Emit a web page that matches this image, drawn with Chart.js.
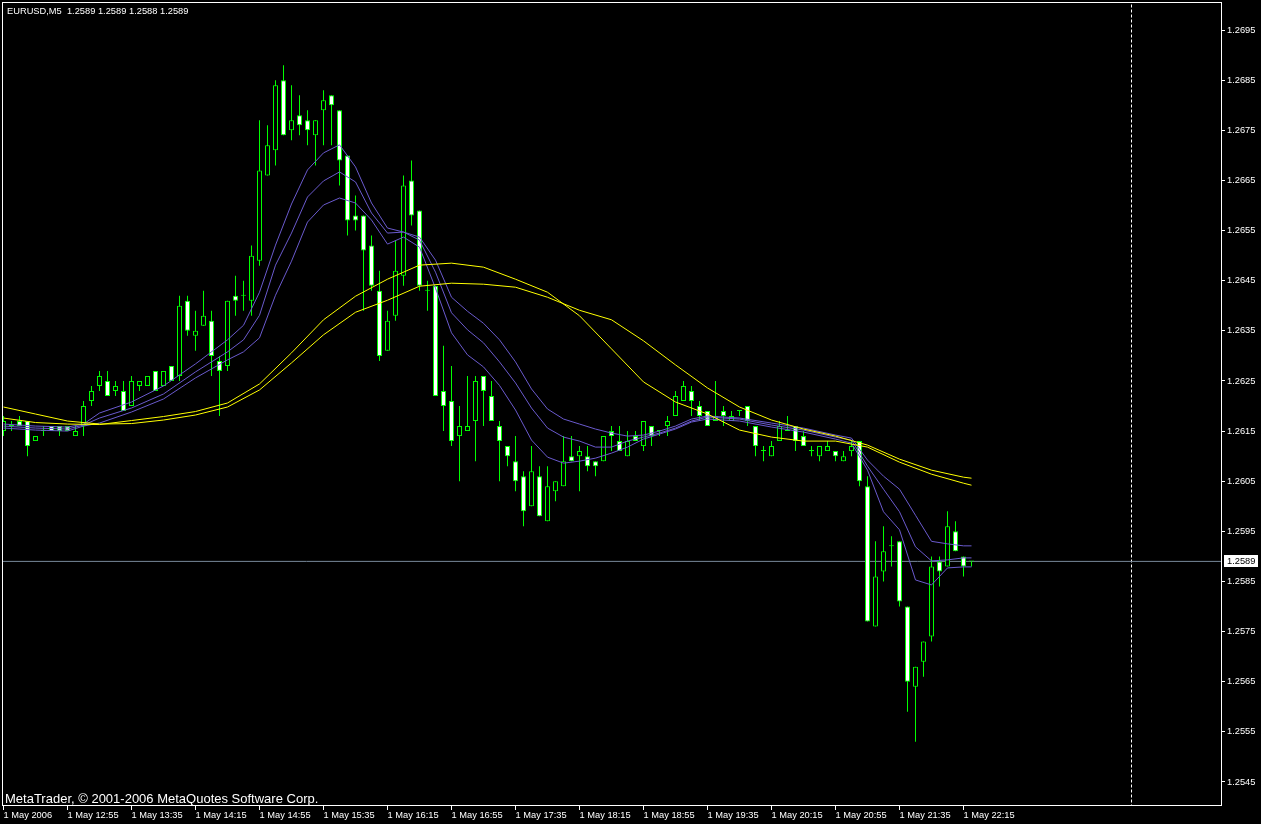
<!DOCTYPE html>
<html>
<head>
<meta charset="utf-8">
<script src="https://cdn.jsdelivr.net/npm/chart.js@4.4.0/dist/chart.umd.min.js"></script>
<style>
    html, body { margin: 0; padding: 0; background: #000; }
    #chart { display: block; }
</style>
</head>
<body>
<canvas id="chart" width="1261" height="824"></canvas>
<script>
// EURUSD M5, 1 May 2006 12:15 .. 22:20, one bar every 5 minutes
const symbolName = 'EURUSD,M5';
const lastQuote = [1.2589, 1.2589, 1.2588, 1.2589];
const bidPrice = 1.2589;
const separatorBar = 141; // 2 May 00:00
const copyright = 'MetaTrader, \u00a9 2001-2006 MetaQuotes Software Corp.';

const xTickBars = [0, 8, 16, 24, 32, 40, 48, 56, 64, 72, 80, 88, 96, 104, 112, 120];
const xTickLabels = ['1 May 2006', '1 May 12:55', '1 May 13:35', '1 May 14:15', '1 May 14:55', '1 May 15:35',
    '1 May 16:15', '1 May 16:55', '1 May 17:35', '1 May 18:15', '1 May 18:55', '1 May 19:35',
    '1 May 20:15', '1 May 20:55', '1 May 21:35', '1 May 22:15'];
const yTickValues = [1.2545, 1.2555, 1.2565, 1.2575, 1.2585, 1.2595, 1.2605, 1.2615,
    1.2625, 1.2635, 1.2645, 1.2655, 1.2665, 1.2675, 1.2685, 1.2695];

const openPrices = [
    1.2615, 1.2616, 1.2617, 1.2617, 1.2613, 1.2615, 1.2616, 1.2616, 1.2616, 1.2614,
    1.2616, 1.2621, 1.2624, 1.2625, 1.2623, 1.2623, 1.2620, 1.2624, 1.2624, 1.2627,
    1.2624, 1.2628, 1.2626, 1.2641, 1.2634, 1.2636, 1.2637, 1.2629, 1.2628, 1.2642,
    1.2642, 1.2641, 1.2649, 1.2666, 1.2671, 1.2685, 1.2675, 1.2678, 1.2677, 1.2674,
    1.2679, 1.2682, 1.2679, 1.2670, 1.2658, 1.2658, 1.2652, 1.2643, 1.2631, 1.2638,
    1.2646, 1.2665, 1.2659, 1.2643, 1.2644, 1.2623, 1.2621, 1.2614, 1.2615, 1.2617,
    1.2626, 1.2622, 1.2616, 1.2612, 1.2609, 1.2606, 1.2600, 1.2606, 1.2597, 1.2603,
    1.2604, 1.2610, 1.2610, 1.2610, 1.2609, 1.2609, 1.2615, 1.2613, 1.2610, 1.2614,
    1.2612, 1.2616, 1.2615, 1.2616, 1.2618, 1.2621, 1.2623, 1.2620, 1.2619, 1.2617,
    1.2619, 1.2617, 1.2619, 1.2620, 1.2616, 1.2611, 1.2610, 1.2613, 1.2615, 1.2616,
    1.2614, 1.2611, 1.2610, 1.2611, 1.2611, 1.2609, 1.2611, 1.2613, 1.2604, 1.2576,
    1.2587, 1.2592, 1.2593, 1.2580, 1.2564, 1.2569, 1.2574, 1.2589, 1.2588, 1.2595,
    1.2590, 1.2589
];
const highPrices = [
    1.2618, 1.2617, 1.2618, 1.2617, 1.2614, 1.2616, 1.2616, 1.2616, 1.2616, 1.2616,
    1.2621, 1.2624, 1.2627, 1.2627, 1.2625, 1.2625, 1.2626, 1.2625, 1.2626, 1.2627,
    1.2627, 1.2628, 1.2642, 1.2642, 1.2639, 1.2643, 1.2639, 1.2630, 1.2641, 1.2646,
    1.2645, 1.2652, 1.2677, 1.2676, 1.2685, 1.2688, 1.2684, 1.2682, 1.2679, 1.2677,
    1.2683, 1.2682, 1.2679, 1.2670, 1.2662, 1.2658, 1.2654, 1.2647, 1.2639, 1.2653,
    1.2666, 1.2669, 1.2659, 1.2645, 1.2644, 1.2632, 1.2628, 1.2620, 1.2626, 1.2626,
    1.2626, 1.2625, 1.2617, 1.2612, 1.2614, 1.2607, 1.2612, 1.2608, 1.2608, 1.2605,
    1.2614, 1.2614, 1.2612, 1.2612, 1.2609, 1.2614, 1.2616, 1.2616, 1.2615, 1.2615,
    1.2617, 1.2616, 1.2615, 1.2618, 1.2623, 1.2625, 1.2624, 1.2621, 1.2619, 1.2625,
    1.2620, 1.2619, 1.2619, 1.2620, 1.2616, 1.2612, 1.2613, 1.2617, 1.2618, 1.2616,
    1.2615, 1.2612, 1.2612, 1.2613, 1.2611, 1.2611, 1.2613, 1.2613, 1.2606, 1.2593,
    1.2596, 1.2594, 1.2593, 1.2580, 1.2568, 1.2573, 1.2590, 1.2590, 1.2599, 1.2597,
    1.2590, 1.2589
];
const lowPrices = [
    1.2614, 1.2615, 1.2616, 1.2610, 1.2613, 1.2614, 1.2615, 1.2614, 1.2615, 1.2614,
    1.2614, 1.2620, 1.2623, 1.2622, 1.2622, 1.2619, 1.2620, 1.2623, 1.2624, 1.2623,
    1.2624, 1.2625, 1.2625, 1.2634, 1.2631, 1.2636, 1.2626, 1.2618, 1.2627, 1.2638,
    1.2639, 1.2638, 1.2648, 1.2666, 1.2668, 1.2674, 1.2673, 1.2674, 1.2672, 1.2668,
    1.2672, 1.2672, 1.2664, 1.2654, 1.2655, 1.2639, 1.2643, 1.2629, 1.2631, 1.2637,
    1.2644, 1.2656, 1.2643, 1.2639, 1.2622, 1.2615, 1.2612, 1.2605, 1.2615, 1.2609,
    1.2616, 1.2617, 1.2605, 1.2608, 1.2603, 1.2596, 1.2600, 1.2598, 1.2597, 1.2601,
    1.2604, 1.2609, 1.2603, 1.2607, 1.2606, 1.2609, 1.2611, 1.2611, 1.2610, 1.2613,
    1.2611, 1.2612, 1.2614, 1.2614, 1.2618, 1.2621, 1.2618, 1.2617, 1.2616, 1.2617,
    1.2616, 1.2617, 1.2618, 1.2616, 1.2610, 1.2609, 1.2610, 1.2613, 1.2615, 1.2611,
    1.2612, 1.2610, 1.2609, 1.2611, 1.2609, 1.2609, 1.2610, 1.2604, 1.2577, 1.2576,
    1.2585, 1.2588, 1.2580, 1.2559, 1.2553, 1.2566, 1.2573, 1.2584, 1.2588, 1.2591,
    1.2586, 1.2588
];
const closePrices = [
    1.2617, 1.2616, 1.2616, 1.2612, 1.2614, 1.2615, 1.2615, 1.2615, 1.2615, 1.2615,
    1.2620, 1.2623, 1.2626, 1.2622, 1.2624, 1.2619, 1.2625, 1.2625, 1.2626, 1.2623,
    1.2627, 1.2625, 1.2640, 1.2635, 1.2635, 1.2638, 1.2630, 1.2627, 1.2641, 1.2641,
    1.2642, 1.2650, 1.2667, 1.2672, 1.2684, 1.2674, 1.2677, 1.2676, 1.2675, 1.2677,
    1.2681, 1.2680, 1.2669, 1.2657, 1.2657, 1.2651, 1.2644, 1.2630, 1.2637, 1.2647,
    1.2664, 1.2658, 1.2644, 1.2643, 1.2622, 1.2620, 1.2613, 1.2616, 1.2616, 1.2625,
    1.2623, 1.2617, 1.2613, 1.2610, 1.2605, 1.2599, 1.2607, 1.2598, 1.2604, 1.2605,
    1.2609, 1.2609, 1.2611, 1.2608, 1.2608, 1.2614, 1.2614, 1.2611, 1.2613, 1.2613,
    1.2617, 1.2614, 1.2615, 1.2617, 1.2622, 1.2624, 1.2621, 1.2618, 1.2616, 1.2618,
    1.2618, 1.2618, 1.2619, 1.2617, 1.2612, 1.2611, 1.2612, 1.2616, 1.2615, 1.2613,
    1.2612, 1.2611, 1.2612, 1.2612, 1.2610, 1.2610, 1.2612, 1.2605, 1.2577, 1.2586,
    1.2591, 1.2592, 1.2581, 1.2565, 1.2568, 1.2573, 1.2588, 1.2587, 1.2596, 1.2591,
    1.2588, 1.2589
];

// moving averages at these bars
const yellowBars = [0, 4, 8, 12, 16, 20, 24, 28, 32, 36, 40, 44, 48, 52, 56, 60,
    64, 68, 72, 76, 80, 84, 88, 92, 96, 100, 104, 108, 112, 116, 120, 121];
const yellowFast = [1.26176, 1.26167, 1.26164, 1.26163, 1.26171, 1.26179, 1.26189, 1.26206,
    1.26244, 1.26306, 1.26372, 1.26419, 1.26453, 1.26481, 1.26485, 1.26477,
    1.26453, 1.26427, 1.26380, 1.26314, 1.26248, 1.26208, 1.26184, 1.26152,
    1.26138, 1.26130, 1.26130, 1.26118, 1.26088, 1.26064, 1.26046, 1.26042];
const yellowSlow = [1.26198, 1.26184, 1.26170, 1.26164, 1.26165, 1.26172, 1.26182, 1.26198,
    1.26232, 1.26286, 1.26342, 1.26387, 1.26411, 1.26439, 1.26445, 1.26443,
    1.26437, 1.26417, 1.26391, 1.26372, 1.26330, 1.26282, 1.26236, 1.26198,
    1.26172, 1.26154, 1.26140, 1.26122, 1.26094, 1.26072, 1.26058, 1.26056];

const blueBars = [0, 4, 8, 10, 12, 16, 20, 24, 28, 30, 32, 34, 36, 38, 40, 42, 44, 46, 48, 50,
    52, 54, 56, 58, 60, 62, 64, 66, 68, 70, 72, 74, 76, 78, 80, 82, 84, 86, 88, 92,
    96, 100, 104, 106, 108, 110, 112, 114, 116, 118, 120, 121];
const blueUpper = [1.26164, 1.26160, 1.26158, 1.26164, 1.26186, 1.26208, 1.26240, 1.26284, 1.26332, 1.26361,
    1.26427, 1.26521, 1.26603, 1.26671, 1.26705, 1.26721, 1.26677, 1.26605, 1.26555, 1.26547,
    1.26537, 1.26491, 1.26417, 1.26389, 1.26365, 1.26332, 1.26288, 1.26234, 1.26194, 1.26174,
    1.26164, 1.26154, 1.26146, 1.26140, 1.26142, 1.26150, 1.26160, 1.26174, 1.26180, 1.26176,
    1.26166, 1.26156, 1.26142, 1.26136, 1.26092, 1.26060, 1.26034, 1.25982, 1.25930, 1.25925,
    1.25921, 1.25921];
const blueMiddle = [1.26160, 1.26156, 1.26154, 1.26162, 1.26176, 1.26196, 1.26224, 1.26268, 1.26308, 1.26332,
    1.26381, 1.26481, 1.26545, 1.26617, 1.26649, 1.26667, 1.26647, 1.26585, 1.26545, 1.26547,
    1.26531, 1.26467, 1.26386, 1.26352, 1.26326, 1.26288, 1.26246, 1.26196, 1.26156, 1.26138,
    1.26130, 1.26118, 1.26118, 1.26130, 1.26138, 1.26146, 1.26156, 1.26170, 1.26178, 1.26174,
    1.26162, 1.26152, 1.26138, 1.26132, 1.26080, 1.26034, 1.25989, 1.25919, 1.25891, 1.25893,
    1.25897, 1.25897];
const blueLower = [1.26156, 1.26152, 1.26150, 1.26160, 1.26166, 1.26188, 1.26214, 1.26256, 1.26292, 1.26308,
    1.26336, 1.26421, 1.26489, 1.26567, 1.26601, 1.26615, 1.26605, 1.26571, 1.26523, 1.26537,
    1.26517, 1.26435, 1.26346, 1.26302, 1.26278, 1.26241, 1.26192, 1.26132, 1.26098, 1.26086,
    1.26090, 1.26096, 1.26106, 1.26118, 1.26134, 1.26144, 1.26154, 1.26168, 1.26174, 1.26170,
    1.26158, 1.26148, 1.26134, 1.26126, 1.26072, 1.25989, 1.25953, 1.25853, 1.25843, 1.25877,
    1.25879, 1.25879];

Chart.defaults.font.family = '"Liberation Sans", Arial, sans-serif';
Chart.defaults.font.size = 9.3;
Chart.defaults.color = '#ffffff';

class MetaTraderChart {
    static candleColor = '#00ff00';
    static bearBody = '#ffffff';
    static bullBody = '#000000';

    constructor(canvasId) {
        this.canvasId = canvasId;
        this.datasets = [];
        // chart area: frame from x=2..1222, y=2..806, 8 px per bar
        this.xMin = -0.1875;
        this.xMax = 152.3125;
        this.yMin = 1.25402;
        this.yMax = 1.27006;
    }

    static noPadding(scale) {
        scale.paddingTop = 0;
        scale.paddingBottom = 0;
        scale.paddingLeft = 0;
        scale.paddingRight = 0;
    }

    addCandles(open, high, low, close) {
        let bodies = [];
        let wicks = [];
        let fills = [];

        for (let i = 0; i < open.length; i++) {
            bodies.push({x: i, y: [open[i], close[i]]});
            wicks.push({x: i, y: [low[i], high[i]]});
            fills.push(close[i] < open[i] ? MetaTraderChart.bearBody : MetaTraderChart.bullBody);
        }

        this.datasets.push({
            type: 'bar',
            data: bodies,
            order: 1,
            grouped: false,
            barThickness: 5,
            minBarLength: 1,
            backgroundColor: fills,
            borderColor: MetaTraderChart.candleColor,
            borderWidth: 1,
            borderSkipped: false,
            inflateAmount: 0
        });
        this.datasets.push({
            type: 'bar',
            data: wicks,
            order: 2,
            grouped: false,
            barThickness: 1,
            backgroundColor: MetaTraderChart.candleColor,
            borderWidth: 0,
            inflateAmount: 0
        });
    }

    addLine(bars, values, color, order, dash) {
        this.datasets.push({
            type: 'line',
            data: bars.map((b, i) => ({x: b, y: values[i]})),
            borderColor: color,
            borderWidth: 1,
            borderDash: dash || [],
            pointRadius: 0,
            tension: 0,
            fill: false,
            order: order
        });
    }

    render() {
        const self = this;

        const paintPlugin = {
            id: 'mtPaint',
            beforeDraw(chart) {
                const ctx = chart.ctx;
                ctx.save();
                ctx.fillStyle = '#000';
                ctx.fillRect(0, 0, chart.width, chart.height);
                ctx.restore();
            },
            afterDraw(chart) {
                const ctx = chart.ctx;
                const area = chart.chartArea;
                ctx.save();

                ctx.strokeStyle = '#fff';
                ctx.lineWidth = 1;
                ctx.strokeRect(area.left + 0.5, area.top + 0.5, area.right - area.left - 1, area.bottom - area.top - 1);

                ctx.fillStyle = '#fff';
                ctx.textBaseline = 'alphabetic';
                ctx.font = '9.3px "Liberation Sans", Arial, sans-serif';
                ctx.fillText(symbolName + '  ' + lastQuote.map(v => v.toFixed(4)).join(' '), 7, 14);

                ctx.font = '13px "Liberation Sans", Arial, sans-serif';
                ctx.fillText(copyright, 5, 803);

                // bid price box on the price axis
                const y = chart.scales.y.getPixelForValue(bidPrice);
                ctx.fillStyle = '#fff';
                ctx.fillRect(area.right + 2, Math.round(y) - 6, 34, 12);
                ctx.fillStyle = '#000';
                ctx.textBaseline = 'middle';
                ctx.font = '9.3px "Liberation Sans", Arial, sans-serif';
                ctx.fillText(bidPrice.toFixed(4), area.right + 5, Math.round(y));

                ctx.restore();
            }
        };

        new Chart(document.getElementById(this.canvasId), {
            type: 'bar',
            data: {datasets: this.datasets},
            options: {
                responsive: false,
                animation: false,
                events: [],
                devicePixelRatio: 1,
                layout: {padding: {left: 2, top: 2, right: 0, bottom: 0}},
                plugins: {
                    legend: {display: false},
                    tooltip: {enabled: false},
                    title: {display: false}
                },
                scales: {
                    x: {
                        type: 'linear',
                        position: 'bottom',
                        offset: false,
                        min: self.xMin,
                        max: self.xMax,
                        afterBuildTicks: scale => {
                            scale.ticks = xTickBars.map(v => ({value: v}));
                        },
                        afterFit: scale => {
                            scale.height = 18;
                            MetaTraderChart.noPadding(scale);
                        },
                        ticks: {
                            autoSkip: false,
                            maxRotation: 0,
                            align: 'start',
                            padding: 0,
                            color: '#fff',
                            callback: (value, index) => xTickLabels[index]
                        },
                        grid: {
                            display: true,
                            offset: false,
                            drawOnChartArea: false,
                            drawTicks: true,
                            tickLength: 4,
                            color: '#fff'
                        },
                        border: {display: false}
                    },
                    y: {
                        type: 'linear',
                        position: 'right',
                        min: self.yMin,
                        max: self.yMax,
                        afterBuildTicks: scale => {
                            scale.ticks = yTickValues.map(v => ({value: v}));
                        },
                        afterFit: scale => {
                            scale.width = 39;
                            MetaTraderChart.noPadding(scale);
                        },
                        ticks: {
                            padding: 2,
                            color: '#fff',
                            callback: value => Number(value).toFixed(4)
                        },
                        grid: {
                            display: true,
                            drawOnChartArea: false,
                            drawTicks: true,
                            tickLength: 3,
                            color: '#fff'
                        },
                        border: {display: false}
                    }
                }
            },
            plugins: [paintPlugin]
        });
    }
}

const chart = new MetaTraderChart('chart');
chart.addLine(yellowBars, yellowFast, '#ffff00', 0);
chart.addLine(yellowBars, yellowSlow, '#ffff00', 0);
chart.addLine(blueBars, blueUpper, '#6a5acd', 0);
chart.addLine(blueBars, blueMiddle, '#6a5acd', 0);
chart.addLine(blueBars, blueLower, '#6a5acd', 0);
chart.addCandles(openPrices, highPrices, lowPrices, closePrices);
chart.addLine([-1, 160], [bidPrice, bidPrice], '#778899', 3);
chart.addLine([separatorBar, separatorBar], [1.2500, 1.2750], '#ffffff', 3, [3, 2]);
chart.render();
</script>
</body>
</html>
